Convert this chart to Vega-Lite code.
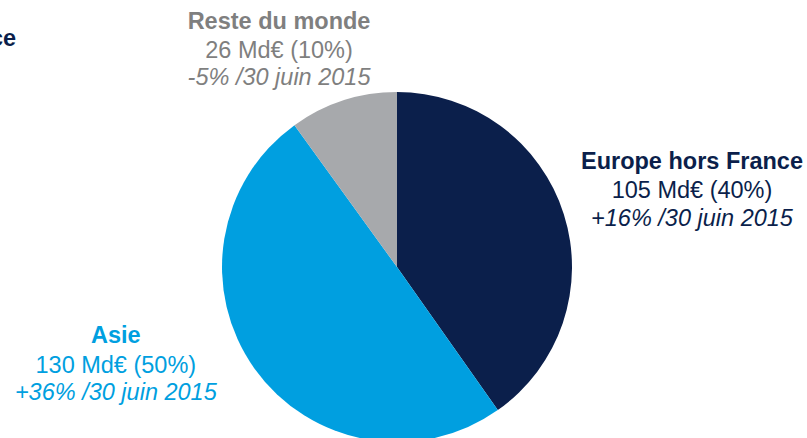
{
  "$schema": "https://vega.github.io/schema/vega-lite/v6.json",
  "autosize": {"type": "none"},
  "width": 794,
  "height": 342,
  "padding": {"left": 0, "top": 96, "right": 13, "bottom": 0},
  "background": "white",
  "config": {"view": {"stroke": null}, "text": {"font": "Liberation Sans", "fontSize": 23.5, "baseline": "middle"}},
  "data": {"values": [
    {"region": "Europe hors France", "value": 105, "amount": "105 Md€ (40%)", "growth": "+16% /30 juin 2015", "order": 1},
    {"region": "Asie", "value": 130, "amount": "130 Md€ (50%)", "growth": "+36% /30 juin 2015", "order": 2},
    {"region": "Reste du monde", "value": 26, "amount": "26 Md€ (10%)", "growth": "-5% /30 juin 2015", "order": 3}
  ]},
  "encoding": {
    "theta": {"field": "value", "type": "quantitative", "stack": true},
    "order": {"field": "order", "type": "quantitative"}
  },
  "layer": [
    {
      "mark": {"type": "arc", "outerRadius": 175},
      "encoding": {
        "color": {"field": "region", "type": "nominal", "legend": null,
          "scale": {"domain": ["Europe hors France", "Asie", "Reste du monde"], "range": ["#0b1f4b", "#009fe0", "#a7a9ac"]}}
      }
    },
    {"mark": {"type": "text", "radius": 300, "dx": 9, "dy": -14, "fontWeight": "bold", "color": "#0b1f4b"},
     "encoding": {"text": {"condition": {"test": "datum.region === 'Europe hors France'", "field": "region"}, "value": ""}}},
    {"mark": {"type": "text", "radius": 300, "dx": 9, "dy": 15, "color": "#0b1f4b"},
     "encoding": {"text": {"condition": {"test": "datum.region === 'Europe hors France'", "field": "amount"}, "value": ""}}},
    {"mark": {"type": "text", "radius": 300, "dx": 9, "dy": 43, "fontStyle": "italic", "color": "#0b1f4b"},
     "encoding": {"text": {"condition": {"test": "datum.region === 'Europe hors France'", "field": "growth"}, "value": ""}}},
    {"mark": {"type": "text", "radius": 300, "dx": -37, "dy": -105, "fontWeight": "bold", "color": "#009fe0"},
     "encoding": {"text": {"condition": {"test": "datum.region === 'Asie'", "field": "region"}, "value": ""}}},
    {"mark": {"type": "text", "radius": 300, "dx": -37, "dy": -75, "color": "#009fe0"},
     "encoding": {"text": {"condition": {"test": "datum.region === 'Asie'", "field": "amount"}, "value": ""}}},
    {"mark": {"type": "text", "radius": 300, "dx": -37, "dy": -48, "fontStyle": "italic", "color": "#009fe0"},
     "encoding": {"text": {"condition": {"test": "datum.region === 'Asie'", "field": "growth"}, "value": ""}}},
    {"mark": {"type": "text", "radius": 250, "dx": -41, "dy": -7, "fontWeight": "bold", "color": "#7f7f7f"},
     "encoding": {"text": {"condition": {"test": "datum.region === 'Reste du monde'", "field": "region"}, "value": ""}}},
    {"mark": {"type": "text", "radius": 250, "dx": -41, "dy": 22, "color": "#7f7f7f"},
     "encoding": {"text": {"condition": {"test": "datum.region === 'Reste du monde'", "field": "amount"}, "value": ""}}},
    {"mark": {"type": "text", "radius": 250, "dx": -41, "dy": 49, "fontStyle": "italic", "color": "#7f7f7f"},
     "encoding": {"text": {"condition": {"test": "datum.region === 'Reste du monde'", "field": "growth"}, "value": ""}}},
    {"mark": {"type": "text", "radius": 250, "dx": -304, "dy": 10, "align": "right", "fontWeight": "bold", "color": "#0b1f4b"},
     "encoding": {"text": {"condition": {"test": "datum.region === 'Reste du monde'", "value": "France"}, "value": ""}}}
  ]
}
